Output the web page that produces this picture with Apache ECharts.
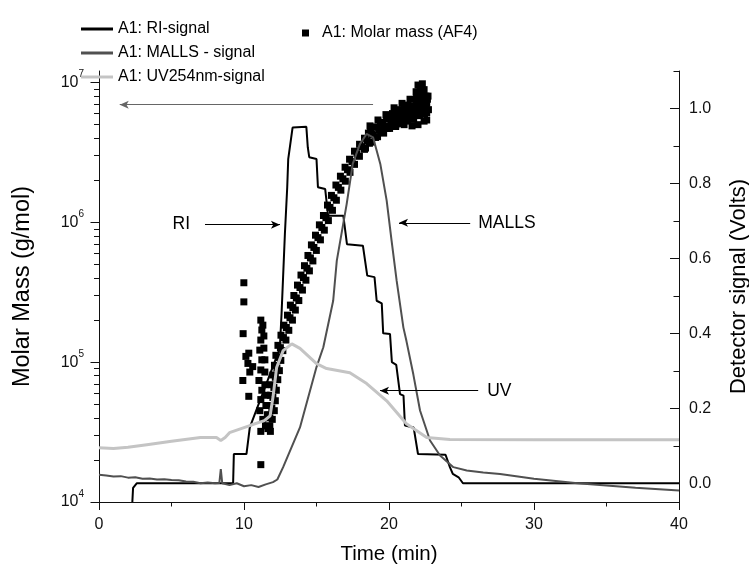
<!DOCTYPE html>
<html>
<head>
<meta charset="utf-8">
<script src="https://cdn.jsdelivr.net/npm/echarts@6/dist/echarts.min.js"></script>
<style>
  html, body { margin: 0; padding: 0; background: #fff; }
  #chart { width: 749px; height: 565px; }
</style>
</head>
<body>
<div id="chart"></div>
<script>
// RI detector signal [time (min), Volts]
var riSignal = [
    [2.3, -0.05], [2.35, -0.012], [2.6, 0.0], [9.25, 0.0], [9.3, 0.078], [10.17, 0.078],
    [10.4, 0.149], [12.47, 0.36], [12.59, 0.452], [12.82, 0.665], [12.98, 0.789],
    [13.05, 0.865], [13.35, 0.949], [13.4, 0.951], [14.3, 0.951], [14.4, 0.896],
    [14.5, 0.87], [15.0, 0.865], [15.1, 0.79], [15.6, 0.785], [15.8, 0.714],
    [16.85, 0.714], [17.1, 0.638], [18.2, 0.634], [18.5, 0.554], [19.0, 0.55],
    [19.15, 0.487], [19.5, 0.48], [19.6, 0.4], [20.07, 0.398], [20.2, 0.323],
    [20.5, 0.316], [20.76, 0.238], [21.0, 0.234], [21.1, 0.154], [21.7, 0.149],
    [22.0, 0.078], [23.9, 0.076], [24.2, 0.043], [24.4, 0.025], [24.8, 0.016],
    [25.1, 0.0], [40, 0.0]
];
// MALLS detector signal
var mallsSignal = [
    [0, 0.023], [0.5, 0.021], [1, 0.018], [1.5, 0.019], [2, 0.015], [2.5, 0.016],
    [3, 0.012], [3.5, 0.013], [4, 0.01], [4.5, 0.011], [5, 0.009], [5.5, 0.008],
    [6, 0.005], [6.5, 0.004], [7, 0.0], [7.5, 0.002], [8, 0.0], [8.3, 0.001],
    [8.4, 0.038], [8.5, 0.0], [9, -0.005], [9.5, 0.0], [10, -0.008], [10.5, -0.005],
    [11, -0.01], [11.5, -0.003], [12.0, 0.003], [12.3, 0.01], [12.7, 0.043],
    [13.86, 0.149], [15.0, 0.31], [15.47, 0.363], [16.15, 0.487], [16.4, 0.594],
    [17.08, 0.745], [17.5, 0.852], [17.99, 0.905], [18.45, 0.932], [18.9, 0.923],
    [19.4, 0.852], [19.84, 0.754], [20.18, 0.647], [20.53, 0.54], [20.99, 0.416],
    [21.2, 0.38], [21.68, 0.29], [22.14, 0.194], [22.83, 0.114], [23.52, 0.074],
    [24.44, 0.043], [25.36, 0.034], [26.5, 0.029], [27.66, 0.025], [30, 0.012],
    [33, 0.0], [35, -0.006], [37, -0.012], [40, -0.019]
];
// UV254nm detector signal
var uvSignal = [
    [0, 0.095], [1, 0.093], [2, 0.096], [3.3, 0.103], [5, 0.112], [7, 0.122],
    [8.1, 0.122], [8.4, 0.114], [8.7, 0.122], [9.0, 0.135], [10.4, 0.154],
    [11.4, 0.167], [11.8, 0.18], [12.0, 0.23], [12.25, 0.309], [12.7, 0.354],
    [13.3, 0.372], [13.86, 0.36], [15.0, 0.319], [15.7, 0.306], [17.3, 0.295],
    [18.46, 0.266], [19.84, 0.22], [21.2, 0.159], [22.6, 0.122], [24.2, 0.117],
    [30, 0.116], [40, 0.116]
];
// Molar mass (AF4) [time (min), g/mol]
var molarMass = [
    [9.99, 3.7e5], [9.99, 2.7e5], [9.94, 1.6e5], [10.33, 1.16e5], [10.13, 1.1e5],
    [10.27, 9.8e4], [10.6, 9.3e4], [10.4, 8.5e4], [9.92, 7.4e4], [10.33, 5.7e4],
    [11.16, 3.2e4], [11.16, 1.85e4],
    [11.16, 2.0e5], [11.23, 1.7e5], [11.16, 1.44e5], [11.09, 1.22e5], [11.23, 1.04e5],
    [11.16, 8.8e4], [11.03, 7.4e4], [11.23, 6.3e4], [11.16, 5.4e4], [11.51, 5.8e4],
    [11.51, 4.9e4], [11.65, 4.2e4], [11.78, 3.5e4], [11.44, 6.9e4], [11.44, 8.5e4],
    [11.44, 1.04e5], [11.37, 1.26e5], [11.37, 1.54e5], [11.30, 1.84e5], [11.09, 4.5e4],
    [11.30, 3.9e4],
    [11.48, 3.5e4], [11.61, 4.2e4], [11.75, 4.9e4], [11.82, 5.8e4], [11.89, 6.9e4],
    [11.99, 8.1e4], [12.10, 9.5e4], [12.20, 1.12e5], [12.34, 1.32e5], [12.55, 1.56e5],
    [12.75, 1.84e5], [13.00, 2.17e5], [13.20, 2.56e5], [13.44, 3.0e5], [13.69, 3.56e5],
    [13.93, 4.2e5], [14.17, 4.9e5], [14.41, 5.8e5], [14.65, 6.9e5], [14.93, 8.1e5],
    [15.20, 9.6e5], [15.48, 1.12e6], [15.76, 1.33e6], [16.03, 1.56e6], [16.34, 1.85e6],
    [16.65, 2.14e6], [16.97, 2.48e6], [17.28, 2.83e6], [17.62, 3.23e6], [17.97, 3.62e6],
    [18.31, 4.0e6], [18.73, 4.4e6], [19.14, 4.8e6], [19.56, 5.1e6], [19.97, 5.5e6],
    [20.39, 5.7e6], [20.80, 6.0e6], [21.21, 6.2e6], [21.63, 6.4e6], [22.04, 6.8e6],
    [22.38, 7.0e6],
    [11.65, 3.35e4], [11.78, 4.0e4], [11.92, 4.7e4], [11.99, 5.6e4], [12.06, 6.6e4],
    [12.16, 7.8e4], [12.27, 9.1e4], [12.37, 1.08e5], [12.51, 1.27e5], [12.72, 1.5e5],
    [12.92, 1.77e5], [13.17, 2.08e5], [13.37, 2.46e5], [13.61, 2.88e5], [13.86, 3.42e5],
    [14.10, 4.03e5], [14.34, 4.7e5], [14.58, 5.57e5], [14.82, 6.62e5], [15.10, 7.78e5],
    [15.37, 9.2e5], [15.65, 1.08e6], [15.93, 1.28e6], [16.20, 1.5e6], [16.51, 1.78e6],
    [16.82, 2.05e6], [17.14, 2.38e6], [17.45, 2.72e6], [17.79, 3.1e6], [18.14, 3.48e6],
    [18.48, 3.84e6], [18.90, 4.22e6], [19.31, 4.6e6], [19.73, 4.9e6], [20.14, 5.28e6],
    [20.56, 5.47e6], [20.97, 5.76e6], [21.38, 5.95e6], [21.80, 6.14e6], [22.21, 6.5e6],
    [22.55, 6.7e6],
    [11.82, 3.2e4], [11.95, 3.9e4], [12.09, 4.5e4], [12.16, 5.3e4], [12.23, 6.3e4],
    [12.33, 7.5e4], [12.44, 8.7e4], [12.54, 1.03e5], [12.68, 1.21e5], [12.89, 1.44e5],
    [13.09, 1.69e5], [13.34, 2.0e5], [13.54, 2.36e5], [13.78, 2.76e5], [14.03, 3.28e5],
    [14.27, 3.86e5], [14.51, 4.5e5], [14.75, 5.3e5], [14.99, 6.3e5], [15.27, 7.5e5],
    [15.54, 8.8e5], [15.82, 1.03e6], [16.10, 1.22e6], [16.37, 1.44e6], [16.68, 1.7e6],
    [16.99, 1.97e6], [17.31, 2.28e6], [17.62, 2.6e6], [17.96, 2.97e6], [18.31, 3.33e6],
    [18.65, 3.68e6], [19.07, 4.05e6], [19.48, 4.4e6], [19.90, 4.7e6], [20.31, 5.1e6],
    [20.73, 5.2e6], [21.14, 5.5e6], [21.55, 5.7e6], [21.97, 5.9e6], [22.38, 6.3e6],
    [22.72, 6.4e6],
    [18.58, 4.35e6], [19.0, 4.8e6], [19.41, 5.2e6], [19.83, 5.6e6], [20.24, 6.0e6],
    [20.66, 6.2e6], [21.07, 6.5e6], [21.48, 6.8e6], [21.9, 7.0e6], [22.31, 7.4e6],
    [22.65, 7.6e6],
    [18.38, 3.4e6], [18.8, 3.75e6], [19.21, 4.1e6], [19.63, 4.35e6], [20.04, 4.7e6],
    [20.46, 4.85e6], [20.87, 5.1e6], [21.28, 5.3e6], [21.7, 5.45e6], [22.11, 5.8e6],
    [22.45, 6.0e6],
    [18.69, 4.9e6], [19.24, 5.4e6], [19.79, 5.9e6], [20.35, 6.6e6], [20.90, 7.1e6],
    [21.45, 7.6e6], [21.87, 8.6e6], [22.14, 9.2e6], [22.42, 8.9e6], [22.69, 8.0e6],
    [22.6, 7.1e6], [22.6, 6.1e6], [22.6, 5.4e6],
    [18.83, 4.25e6], [19.38, 4.55e6], [19.93, 4.8e6], [20.48, 5.0e6], [21.04, 5.0e6],
    [21.59, 4.9e6], [22.0, 5.0e6], [22.42, 5.3e6],
    [20.76, 6.4e6], [21.31, 6.9e6], [21.87, 7.6e6], [22.28, 8.2e6], [22.55, 8.0e6],
    [21.9, 8.4e6], [22.2, 9.0e6], [22.0, 9.6e6], [22.3, 9.8e6]
];
// axis ticks
var massTicks = [1e4, 1e5, 1e6, 1e7];
var massMinorTicks = [2e4, 3e4, 4e4, 5e4, 6e4, 7e4, 8e4, 9e4,
    2e5, 3e5, 4e5, 5e5, 6e5, 7e5, 8e5, 9e5,
    2e6, 3e6, 4e6, 5e6, 6e6, 7e6, 8e6, 9e6];
var voltTicks = [0, 0.2, 0.4, 0.6, 0.8, 1.0];
var voltMinorTicks = [0.1, 0.3, 0.5, 0.7, 0.9, 1.1];

var FONT = '"Liberation Sans", Arial, sans-serif';
var AXIS_COLOR = '#111';

var chart = echarts.init(document.getElementById('chart'));

//注释箭头
function arrow(x1, y1, x2, y2, text, gap, color) {
    return [
        { coord: [x1, y1],
          label: { show: !!text, formatter: text || '', position: 'start', distance: gap || 6 },
          lineStyle: { color: color || '#000' } },
        { coord: [x2, y2] }
    ];
}

//只画刻度的辅助轴
function tickAxis(type, min, max, pos, values, len, inside) {
    return {
        type: type,
        min: min,
        max: max,
        position: pos,
        axisLine: { show: false },
        axisTick: { show: true, inside: inside, length: len, customValues: values,
                    lineStyle: { color: AXIS_COLOR, width: 1 } },
        axisLabel: { show: false },
        splitLine: { show: false }
    };
}

chart.setOption({
    animation: false,
    backgroundColor: '#fff',
    textStyle: { fontFamily: FONT },
    grid: { left: 99, right: 70, top: 71, bottom: 63, outerBoundsMode: 'none' },
    legend: [{
        orient: 'vertical',
        left: 76,
        top: 16,
        itemWidth: 32,
        itemHeight: 3,
        itemGap: 8,
        selectedMode: false,
        textStyle: { fontSize: 16, color: '#000', fontFamily: FONT, lineHeight: 16 },
        data: [
            { name: 'A1: RI-signal', icon: 'rect' },
            { name: 'A1: MALLS - signal', icon: 'rect' },
            { name: 'A1: UV254nm-signal', icon: 'rect' }
        ]
    }, {
        left: 297,
        top: 20,
        itemWidth: 7,
        itemHeight: 7,
        selectedMode: false,
        textStyle: { fontSize: 16, color: '#000', fontFamily: FONT, padding: [0, 0, 0, 8] },
        data: [{ name: 'A1: Molar mass (AF4)', icon: 'rect' }]
    }],
    xAxis: {
        type: 'value',
        min: 0,
        max: 40,
        interval: 10,
        name: 'Time (min)',
        nameLocation: 'middle',
        nameGap: 42,
        nameTextStyle: { fontSize: 20.5, color: '#000' },
        axisLine: { show: true, onZero: false, lineStyle: { color: AXIS_COLOR, width: 1 } },
        axisTick: { show: true, length: 8, lineStyle: { color: AXIS_COLOR, width: 1 } },
        minorTick: { show: true, splitNumber: 2, length: 4.5, lineStyle: { color: AXIS_COLOR, width: 1 } },
        axisLabel: { fontSize: 16, color: '#111', margin: 15 },
        splitLine: { show: false },
        minorSplitLine: { show: false }
    },
    yAxis: [{
        type: 'log',
        logBase: 10,
        min: 1e4,
        max: 1.21e7,
        position: 'left',
        name: 'Molar Mass (g/mol)',
        nameLocation: 'middle',
        nameRotate: 90,
        nameGap: 64,
        nameTextStyle: { fontSize: 23.5, color: '#000' },
        axisLine: { show: true, lineStyle: { color: AXIS_COLOR, width: 1 } },
        axisTick: { show: true, length: 8.5, customValues: massTicks, lineStyle: { color: AXIS_COLOR, width: 1 } },
        axisLabel: {
            margin: 15,
            customValues: massTicks,
            formatter: function (v) {
                return '{b|10}{s|' + Math.round(Math.log10(v)) + '}';
            },
            rich: {
                b: { fontSize: 16, lineHeight: 26, color: '#111' },
                s: { fontSize: 10, lineHeight: 10, verticalAlign: 'top', color: '#111' }
            }
        },
        splitLine: { show: false }
    }, {
        type: 'value',
        min: -0.05,
        max: 1.1,
        position: 'right',
        name: 'Detector signal (Volts)',
        nameLocation: 'middle',
        nameRotate: 90,
        nameGap: 49,
        nameTextStyle: { fontSize: 22, color: '#000' },
        axisLine: { show: true, lineStyle: { color: AXIS_COLOR, width: 1 } },
        axisTick: { show: false },
        axisLabel: {
            fontSize: 16, color: '#111', margin: 10,
            customValues: voltTicks,
            formatter: function (v) { return v.toFixed(1); }
        },
        splitLine: { show: false }
    },
    tickAxis('log', 1e4, 1.21e7, 'left', massMinorTicks, 5, false),
    tickAxis('value', -0.05, 1.1, 'right', voltTicks, 9, true),
    tickAxis('value', -0.05, 1.1, 'right', voltMinorTicks, 5.5, true)
    ],
    series: [{
        name: 'A1: Molar mass (AF4)',
        type: 'scatter',
        yAxisIndex: 0,
        symbol: 'rect',
        symbolSize: 7,
        itemStyle: { color: '#000', opacity: 1 },
        silent: true,
        data: molarMass
    }, {
        name: 'A1: RI-signal',
        type: 'line',
        yAxisIndex: 1,
        symbol: 'none',
        lineStyle: { color: '#000', width: 2 },
        itemStyle: { color: '#000' },
        silent: true,
        data: riSignal,
        markLine: {
            silent: true,
            symbol: ['none', 'arrow'],
            symbolSize: [6, 9],
            label: { fontSize: 17.5, color: '#000' },
            lineStyle: { color: '#000', width: 1, type: 'solid' },
            emphasis: { disabled: true },
            data: [
                arrow(7.31, 0.69, 12.48, 0.69, 'RI', 15),
                arrow(25.6, 0.695, 20.69, 0.695, 'MALLS', 8),
                arrow(26.15, 0.247, 19.38, 0.247, 'UV', 9),
                arrow(18.9, 1.01, 1.43, 1.01, '', 0, '#666')
            ]
        }
    }, {
        name: 'A1: MALLS - signal',
        type: 'line',
        yAxisIndex: 1,
        symbol: 'none',
        lineStyle: { color: '#505050', width: 2 },
        itemStyle: { color: '#505050' },
        silent: true,
        data: mallsSignal
    }, {
        name: 'A1: UV254nm-signal',
        type: 'line',
        yAxisIndex: 1,
        symbol: 'none',
        lineStyle: { color: '#c4c4c4', width: 3 },
        itemStyle: { color: '#c4c4c4' },
        silent: true,
        data: uvSignal
    }]
});
</script>
</body>
</html>
